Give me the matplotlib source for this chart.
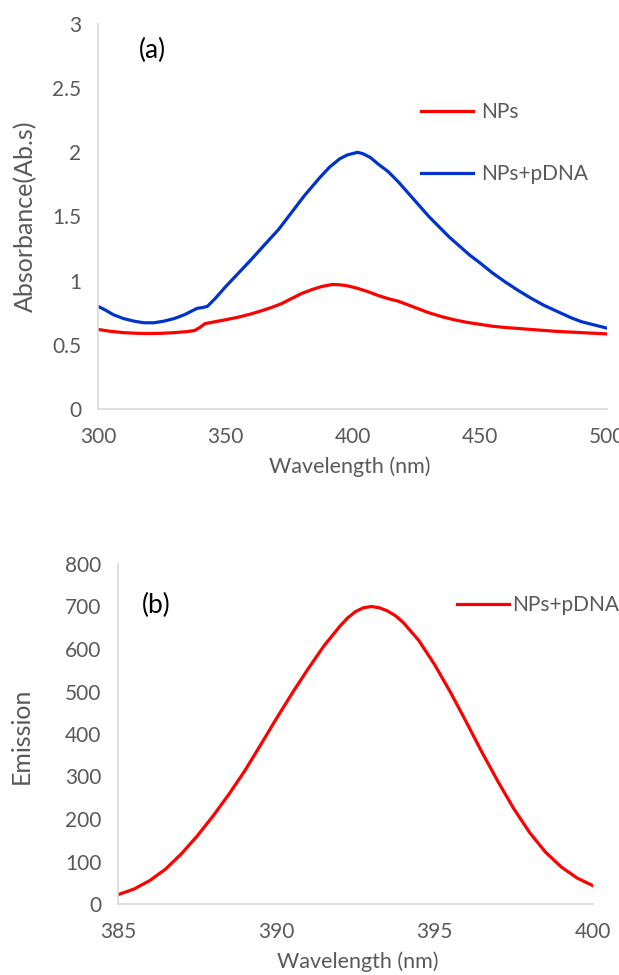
import matplotlib
matplotlib.use('Agg')
import matplotlib.pyplot as plt
from matplotlib.ticker import FuncFormatter

plt.rcParams['font.family'] = ['Lato', 'DejaVu Sans']

# panel (a): absorbance
wl_np = [300, 305, 310, 315, 320, 325, 330, 335, 338, 340, 342, 346, 350, 355, 360, 365, 368, 372, 376, 380,
         384, 388, 392, 395, 398, 402, 406, 410, 414, 418, 422, 426, 430, 435, 440, 445, 450, 455, 460, 470,
         480, 490, 500]
abs_np = [0.62, 0.605, 0.595, 0.59, 0.588, 0.59, 0.595, 0.603, 0.612, 0.635, 0.665, 0.68, 0.695, 0.715, 0.74,
          0.77, 0.79, 0.82, 0.86, 0.90, 0.93, 0.955, 0.97, 0.968, 0.96, 0.94, 0.915, 0.885, 0.86, 0.84, 0.81,
          0.78, 0.75, 0.72, 0.695, 0.675, 0.66, 0.645, 0.635, 0.62, 0.605, 0.595, 0.585]

wl_dna = [300, 303, 306, 310, 314, 318, 322, 326, 330, 334, 337, 339, 341, 343, 346, 350, 355, 360, 365, 371,
          376, 381, 387, 391, 395, 398, 400, 402, 404, 407, 410, 414, 418, 422, 426, 430, 434, 438, 442, 446,
          450, 455, 460, 465, 470, 475, 481, 486, 490, 495, 500]
abs_dna = [0.80, 0.77, 0.735, 0.705, 0.685, 0.672, 0.672, 0.685, 0.705, 0.735, 0.765, 0.785, 0.79, 0.80, 0.86,
           0.95, 1.055, 1.16, 1.27, 1.40, 1.53, 1.66, 1.80, 1.885, 1.95, 1.98, 1.99, 2.00, 1.99, 1.96, 1.91, 1.85,
           1.77, 1.68, 1.59, 1.50, 1.42, 1.34, 1.27, 1.20, 1.14, 1.06, 0.99, 0.925, 0.865, 0.81, 0.755, 0.71, 0.68,
           0.655, 0.63]

# panel (b): emission
wl_em = [385, 385.5, 386, 386.5, 387, 387.5, 388, 388.5, 389, 389.5, 390, 390.5, 391, 391.5, 392, 392.25, 392.5,
         392.75, 393, 393.25, 393.5, 393.75, 394, 394.5, 395, 395.5, 396, 396.5, 397, 397.5, 398, 398.5, 399,
         399.5, 400]
emission = [22, 35, 55, 82, 118, 160, 207, 258, 313, 374, 436, 496, 553, 607, 653, 673, 688, 697, 700, 697, 690,
            679, 663, 620, 563, 498, 428, 356, 288, 224, 168, 122, 87, 61, 43]

text_gray = '#595959'
spine_gray = '#d9d9d9'
fmt = FuncFormatter(lambda v, p: '{:g}'.format(v))

fig = plt.figure(figsize=(6.19, 9.75), dpi=100)
ax1 = fig.add_axes([98 / 619, 1 - 409 / 975, 509 / 619, 385 / 975])
ax2 = fig.add_axes([118 / 619, 1 - 904 / 975, 475 / 619, 340 / 975])

for ax in (ax1, ax2):
    for s in ('top', 'right'):
        ax.spines[s].set_visible(False)
    for s in ('left', 'bottom'):
        ax.spines[s].set_color(spine_gray)
        ax.spines[s].set_linewidth(1.2)
    ax.tick_params(length=0, labelsize=15, colors=text_gray)
    ax.tick_params(axis='x', pad=13)
    ax.tick_params(axis='y', pad=12)
    ax.yaxis.set_major_formatter(fmt)

ax1.plot(wl_np, abs_np, color='#ff0000', lw=2.3, label='NPs')
ax1.plot(wl_dna, abs_dna, color='#0033cc', lw=2.3, label='NPs+pDNA')
ax1.set_xlim(300, 500)
ax1.set_ylim(0, 3)
ax1.set_xticks([300, 350, 400, 450, 500])
ax1.set_yticks([0, 0.5, 1, 1.5, 2, 2.5, 3])
ax1.set_xlabel('Wavelength (nm)', fontsize=15.5, color=text_gray)
ax1.set_ylabel('Absorbance(Ab.s)', fontsize=18, color=text_gray)
ax1.xaxis.set_label_coords(0.495, -0.122)
ax1.yaxis.set_label_coords(-0.12, 0.5)
ax1.text(0.08, 0.932, '(a)', transform=ax1.transAxes, fontsize=19, color='black', va='center')
ax1.legend(loc='center left', bbox_to_anchor=(0.634, 0.691), frameon=False, fontsize=15,
           labelcolor=text_gray, handlelength=2.5, handletextpad=0.4, labelspacing=2.0,
           borderaxespad=0, borderpad=0)

ax2.plot(wl_em, emission, color='#ff0000', lw=2.3, label='NPs+pDNA')
ax2.set_xlim(385, 400)
ax2.set_ylim(0, 800)
ax2.set_xticks([385, 390, 395, 400])
ax2.set_yticks(range(0, 801, 100))
ax2.set_xlabel('Wavelength (nm)', fontsize=15.5, color=text_gray)
ax2.set_ylabel('Emission', fontsize=18, color=text_gray)
ax2.xaxis.set_label_coords(0.504, -0.14)
ax2.yaxis.set_label_coords(-0.18, 0.494)
ax2.text(0.05, 0.879, '(b)', transform=ax2.transAxes, fontsize=19, color='black', va='center')
ax2.legend(loc='center left', bbox_to_anchor=(0.714, 0.879), frameon=False, fontsize=15,
           labelcolor=text_gray, handlelength=2.5, handletextpad=0.15, borderaxespad=0, borderpad=0)

fig.savefig('out.png', dpi=100)
